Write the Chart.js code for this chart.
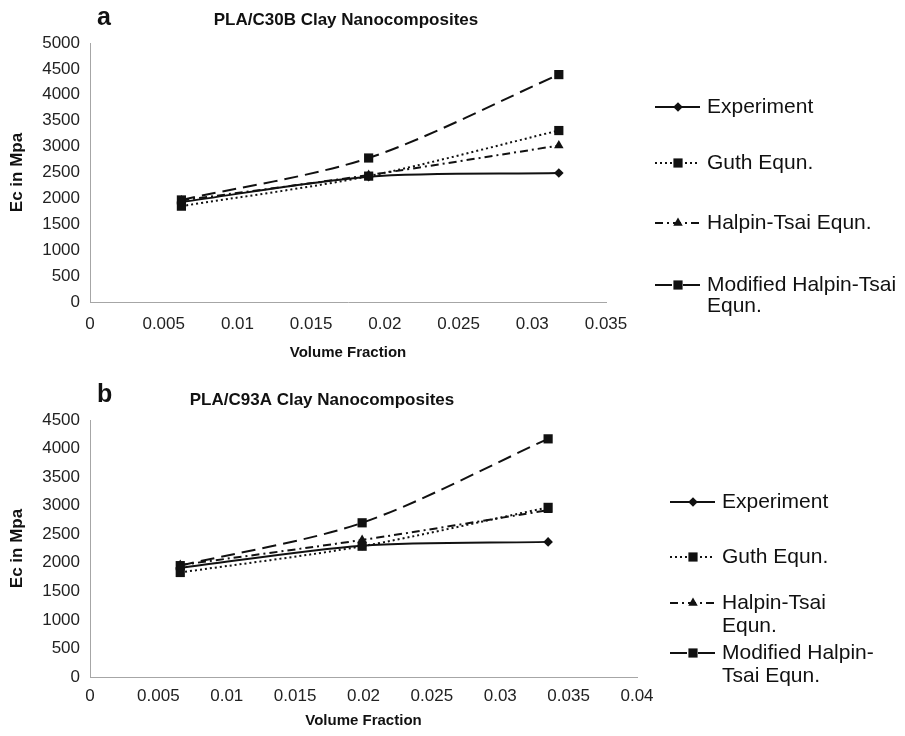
<!DOCTYPE html>
<html>
<head>
<meta charset="utf-8">
<script src="https://cdn.jsdelivr.net/npm/chart.js@4.4.0/dist/chart.umd.min.js"></script>
<style>
    body { margin: 0; background: #fff; }
    .quadro { position: absolute; left: 0; width: 905px; height: 368px; }
</style>
</head>
<body>
<div class="quadro" style="top:0"><canvas id="graficoA" width="905" height="368"></canvas></div>
<div class="quadro" style="top:368px"><canvas id="graficoB" width="905" height="368"></canvas></div>
<script>
// Dados (a) PLA/C30B
const fracaoA = [0.0062, 0.0189, 0.0318];
const experimentoA = [1930, 2420, 2490];
const guthA = [1850, 2430, 3310];
const halpinA = [1960, 2450, 3020];
const halpinModA = [1970, 2780, 4390];

// Dados (b) PLA/C93A
const fracaoB = [0.0066, 0.0199, 0.0335];
const experimentoB = [1910, 2300, 2366];
const guthB = [1830, 2290, 2970];
const halpinB = [1960, 2400, 2920];
const halpinModB = [1950, 2700, 4170];

// Rótulos da legenda (quebras de linha como no original)
const rotulosA = [["Experiment"], ["Guth Equn."], ["Halpin-Tsai Equn."], ["Modified Halpin-Tsai", "Equn."]];
const rotulosB = [["Experiment"], ["Guth Equn."], ["Halpin-Tsai", "Equn."], ["Modified Halpin-", "Tsai Equn."]];

const FONTE = '"Liberation Sans", Arial, sans-serif';
const COR = "#111";

// Estilo de cada série: contínua, pontilhada, traço-ponto, tracejada
const estilos = [
    { borderDash: [], legendaDash: [], pointStyle: "rectRot", pointRadius: 4.8 },
    { borderDash: [2, 3], legendaDash: [2, 3], pointStyle: "rect", pointRadius: 6.5 },
    { borderDash: [8, 4, 2, 4], legendaDash: [8, 4, 2, 4], pointStyle: "triangle", pointRadius: 5.5 },
    { borderDash: [14, 7], legendaDash: [17, 11], pointStyle: "rect", pointRadius: 6.5 }
];

// Plugin que desenha a letra, o título e a legenda com linha + marcador
const extras = {
    id: "extras",
    afterDraw(chart, args, opts) {
        const ctx = chart.ctx;
        ctx.save();
        ctx.fillStyle = COR;
        ctx.textBaseline = "alphabetic";
        ctx.textAlign = "left";
        ctx.font = "bold 25px " + FONTE;
        ctx.fillText(opts.letra, opts.letraX, opts.letraY);
        ctx.font = "bold 17px " + FONTE;
        ctx.textAlign = "center";
        ctx.fillText(opts.titulo, opts.tituloX, opts.tituloY);

        ctx.textBaseline = "middle";
        chart.data.datasets.forEach((ds, i) => {
            const x0 = opts.legendaX;
            const y = opts.legendaY[i];
            ctx.save();
            ctx.strokeStyle = COR;
            ctx.lineWidth = 2;
            ctx.setLineDash(estilos[i].legendaDash);
            ctx.beginPath();
            ctx.moveTo(x0, y);
            ctx.lineTo(x0 + 45, y);
            ctx.stroke();
            ctx.setLineDash([]);
            ctx.fillStyle = COR;
            Chart.helpers.drawPoint(ctx, {
                pointStyle: ds.pointStyle,
                radius: ds.pointRadius,
                borderWidth: 0,
                rotation: 0
            }, x0 + 23, y);
            ctx.restore();

            ctx.font = "21px " + FONTE;
            ctx.textAlign = "left";
            opts.rotulos[i].forEach((linha, k) => {
                ctx.fillText(linha, x0 + 52, y + k * opts.entreLinhas);
            });
        });
        ctx.restore();
    }
};

function montarSeries(rotulos, valores, fracao) {
    return valores.map((v, i) => ({
        label: rotulos[i].join(" "),
        data: fracao.map((x, j) => ({ x: x, y: v[j] })),
        borderColor: COR,
        backgroundColor: COR,
        borderWidth: 2,
        borderDash: estilos[i].borderDash,
        pointStyle: estilos[i].pointStyle,
        pointRadius: estilos[i].pointRadius,
        pointBorderWidth: 0,
        tension: 0.3,
        fill: false
    }));
}

function formatarTick(valor) {
    return String(Number(valor.toFixed(3)));
}

function criarGrafico(id, series, eixos, painel) {
    new Chart(document.getElementById(id), {
        type: "line",
        data: { datasets: series },
        plugins: [extras],
        options: {
            responsive: false,
            animation: false,
            layout: {
                padding: { left: 5, right: painel.direita, top: painel.topo, bottom: 2 }
            },
            plugins: {
                legend: { display: false },
                tooltip: { enabled: false },
                extras: painel
            },
            scales: {
                x: {
                    type: "linear",
                    min: 0,
                    max: eixos.xMax,
                    grid: { display: false, drawTicks: false },
                    border: { display: true, color: "#a6a6a6", width: 1 },
                    ticks: {
                        stepSize: 0.005,
                        padding: painel.xPad,
                        color: "#222",
                        font: { family: FONTE, size: 17 },
                        callback: formatarTick,
                        maxRotation: 0,
                        autoSkip: false
                    },
                    title: {
                        display: true,
                        text: "Volume Fraction",
                        color: COR,
                        font: { family: FONTE, size: 15, weight: "bold" },
                        padding: { top: 2, bottom: 4 }
                    },
                    afterFit(escala) { escala.height = painel.alturaX; }
                },
                y: {
                    min: 0,
                    max: eixos.yMax,
                    grid: { display: false, drawTicks: false },
                    border: { display: true, color: "#a6a6a6", width: 1 },
                    ticks: {
                        stepSize: 500,
                        padding: 10,
                        color: "#222",
                        font: { family: FONTE, size: 17 },
                        callback: (valor) => String(valor),
                        autoSkip: false
                    },
                    title: {
                        display: true,
                        text: "Ec in Mpa",
                        color: COR,
                        font: { family: FONTE, size: 17, weight: "bold" },
                        padding: { top: 2, bottom: 2 }
                    },
                    afterFit(escala) { escala.width = 85; }
                }
            }
        }
    });
}

criarGrafico("graficoA",
    montarSeries(rotulosA, [experimentoA, guthA, halpinA, halpinModA], fracaoA),
    { xMax: 0.035, yMax: 5000 },
    {
        letra: "a", letraX: 97, letraY: 25,
        titulo: "PLA/C30B Clay Nanocomposites", tituloX: 346, tituloY: 25,
        rotulos: rotulosA, legendaX: 655, legendaY: [107, 163, 223, 285], entreLinhas: 21,
        direita: 299, topo: 43, alturaX: 64, xPad: 12
    });

criarGrafico("graficoB",
    montarSeries(rotulosB, [experimentoB, guthB, halpinB, halpinModB], fracaoB),
    { xMax: 0.04, yMax: 4500 },
    {
        letra: "b", letraX: 97, letraY: 34,
        titulo: "PLA/C93A Clay Nanocomposites", tituloX: 322, tituloY: 37,
        rotulos: rotulosB, legendaX: 670, legendaY: [134, 189, 235, 285], entreLinhas: 23,
        direita: 268, topo: 52, alturaX: 57, xPad: 9
    });
</script>
</body>
</html>
